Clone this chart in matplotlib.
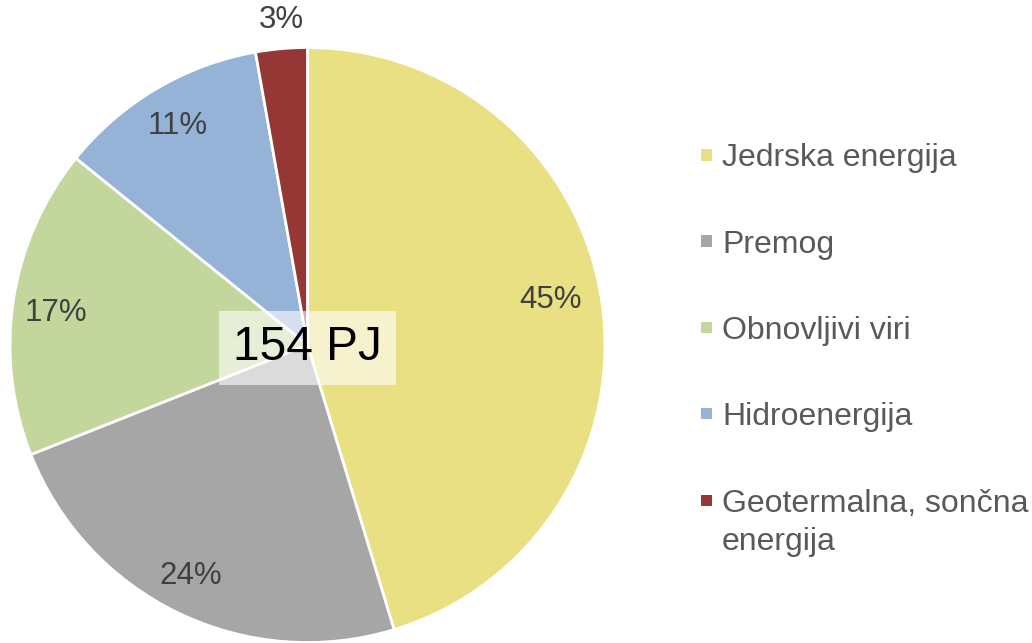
import numpy as np
import matplotlib
matplotlib.use('Agg')
import matplotlib.pyplot as plt
from matplotlib.patches import Rectangle

labels = ['Jedrska energija', 'Premog', 'Obnovljivi viri', 'Hidroenergija',
          'Geotermalna, sončna\nenergija']
shares = [45.3, 23.7, 16.8, 11.4, 2.8]
colors = ['#E8E083', '#A6A6A6', '#C3D69B', '#95B3D7', '#953735']
total_label = '154 PJ'

plt.rcParams['font.family'] = ['Liberation Sans', 'DejaVu Sans']

W, H = 1032, 643
fig = plt.figure(figsize=(W / 100, H / 100), dpi=100)

# pie axes: 600x600 px box centred at (307.5, 345) from top-left
cx, cy, half = 307.5, 345, 300
ax = fig.add_axes([(cx - half) / W, (H - cy - half) / H, 2 * half / W, 2 * half / H])
wedges, _ = ax.pie(shares, colors=colors, startangle=90, counterclock=False,
                   radius=297.5 / 300,
                   wedgeprops=dict(edgecolor='white', linewidth=2))
ax.set_xlim(-1, 1)
ax.set_ylim(-1, 1)
ax.set_aspect('equal')
ax.axis('off')

# percentage labels: distance from centre and small angle nudge per slice
dists = [0.825, 0.862, 0.845, 0.847, 1.087]
nudges = [2.0, -1.0, 1.5, 0.0, -0.5]
for w, v, d, n in zip(wedges, shares, dists, nudges):
    ang = np.deg2rad((w.theta1 + w.theta2) / 2 + n)
    ax.text(d * np.cos(ang), d * np.sin(ang), f'{round(v)}%', ha='center', va='center',
            fontsize=22.5, color='#404040')

ax.text(0, -0.01, total_label, ha='center', va='center', fontsize=34.5, color='black',
        bbox=dict(boxstyle='square,pad=0.3', facecolor='white', alpha=0.6, edgecolor='none'))

# legend drawn by hand
ys = [155, 241, 327, 413, 500]
for name, c, y in zip(labels, colors, ys):
    fig.patches.append(Rectangle((701 / W, (H - y - 5.5) / H), 11 / W, 11 / H,
                                 transform=fig.transFigure, facecolor=c, edgecolor='none'))
    fig.text(722 / W, (H - y + 11.5) / H, name, ha='left', va='top',
             fontsize=23, color='#595959', linespacing=1.37)

fig.savefig('out.png', dpi=100)
